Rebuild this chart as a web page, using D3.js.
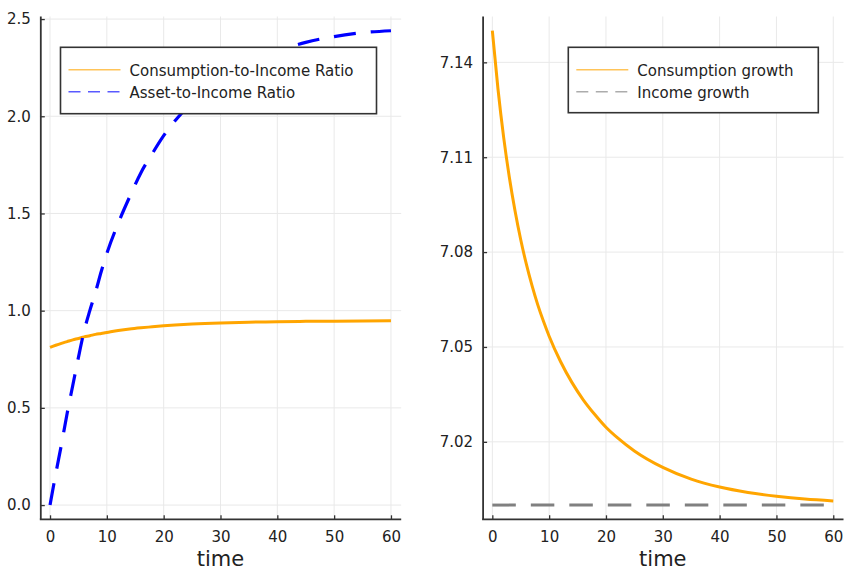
<!DOCTYPE html>
<html>
<head>
<meta charset="utf-8">
<script src="https://cdn.jsdelivr.net/npm/d3@7"></script>
<style>
  html, body { margin: 0; padding: 0; background: #ffffff; }
  svg { display: block; }
  text { font-family: "DejaVu Sans", sans-serif; fill: #222; }
</style>
</head>
<body>
<svg id="chart" width="845" height="569"></svg>
<script>
// Time grid shared by the simulated paths (years)
const timePoints = [0, 1, 2, 3, 4, 5, 6, 7, 8, 9, 10, 12, 14, 16, 18, 20, 22, 25, 30, 35, 40, 45, 50, 55, 60];

// Left panel: ratios to income
const consumptionRatio = [0.811, 0.822, 0.832, 0.841, 0.850, 0.857, 0.865, 0.871, 0.878, 0.883, 0.888,
                          0.898, 0.906, 0.912, 0.917, 0.922, 0.926, 0.931, 0.937, 0.941, 0.943, 0.945, 0.946, 0.947, 0.948];
const assetRatio = [0.0, 0.16, 0.31, 0.47, 0.615, 0.76, 0.895, 1.0, 1.095, 1.2, 1.295,
                    1.45, 1.585, 1.71, 1.808, 1.9, 1.977, 2.07, 2.19, 2.275, 2.335, 2.38, 2.41, 2.43, 2.44];

// Right panel: growth rates
const consumptionGrowth = [7.1500, 7.1315, 7.1162, 7.1036, 7.0930, 7.0839, 7.0761, 7.0693, 7.0633, 7.0581, 7.0534,
                           7.0454, 7.0388, 7.0333, 7.0287, 7.0246, 7.0213, 7.0171, 7.0119, 7.0082, 7.0057, 7.0040, 7.0028, 7.0019, 7.0013];
const incomeTimes = [0, 60];
const incomeGrowth = [7.0, 7.0];

// Tick labels
const xTicks = [0, 10, 20, 30, 40, 50, 60];
const leftYTicks = [0.0, 0.5, 1.0, 1.5, 2.0, 2.5];
const rightYTicks = [7.02, 7.05, 7.08, 7.11, 7.14];

const leftLegend = ["Consumption-to-Income Ratio", "Asset-to-Income Ratio"];
const rightLegend = ["Consumption growth", "Income growth"];

const svg = d3.select("#chart");

const plotTop = 16.5, plotBottom = 519.3;

function panel(opts) {
  const g = svg.append("g");
  const x = d3.scaleLinear().domain([-1.8, 61.8]).range([opts.left, opts.right]);
  const y = d3.scaleLinear().domain(opts.yDomain).range([plotBottom, plotTop]);

  // grid
  g.append("g").selectAll("line").data(xTicks).join("line")
    .attr("x1", d => x(d)).attr("x2", d => x(d))
    .attr("y1", plotTop).attr("y2", plotBottom)
    .attr("stroke", "#e9e9e9").attr("stroke-width", 1);
  g.append("g").selectAll("line").data(opts.yTicks).join("line")
    .attr("y1", d => y(d)).attr("y2", d => y(d))
    .attr("x1", opts.left).attr("x2", opts.right)
    .attr("stroke", "#e9e9e9").attr("stroke-width", 1);

  // axes (ticks point inward, labels outside)
  const xAxis = d3.axisBottom(x).tickValues(xTicks).tickFormat(d3.format("d"))
    .tickSizeInner(-4).tickSizeOuter(0).tickPadding(12);
  const yAxis = d3.axisLeft(y).tickValues(opts.yTicks).tickFormat(opts.yFormat)
    .tickSizeInner(-4).tickSizeOuter(0).tickPadding(10);

  const gx = g.append("g").attr("transform", `translate(0,${plotBottom})`).call(xAxis);
  const gy = g.append("g").attr("transform", `translate(${opts.left + 1},0)`).call(yAxis);
  [gx, gy].forEach(a => {
    a.select(".domain").remove();
    a.selectAll(".tick line").attr("stroke", "#333").attr("stroke-width", 1.3);
    a.selectAll(".tick text").attr("font-size", 15).attr("fill", "#222")
      .style("font-family", "'DejaVu Sans', sans-serif");
  });
  // spines
  g.append("line").attr("x1", opts.left + 1).attr("x2", opts.left + 1)
    .attr("y1", plotTop).attr("y2", plotBottom)
    .attr("stroke", "#333").attr("stroke-width", 1.8);
  g.append("line").attr("x1", opts.left).attr("x2", opts.right)
    .attr("y1", plotBottom).attr("y2", plotBottom)
    .attr("stroke", "#333").attr("stroke-width", 1.8);

  // x axis title
  g.append("text").attr("x", (opts.left + opts.right) / 2).attr("y", 565.5)
    .attr("text-anchor", "middle").attr("font-size", 21).text("time");

  // series
  opts.series.forEach(s => {
    const pts = s.t.map((t, i) => [t, s.v[i]]);
    const line = d3.line().x(d => x(d[0])).y(d => y(d[1])).curve(d3.curveMonotoneX);
    g.append("path").datum(pts).attr("d", line)
      .attr("fill", "none").attr("stroke", s.color).attr("stroke-width", s.width)
      .attr("stroke-dasharray", s.dash || null);
  });

  // legend
  const L = opts.legend;
  const lg = g.append("g");
  lg.append("rect").attr("x", L.x).attr("y", L.y).attr("width", L.w).attr("height", L.h)
    .attr("fill", "#fff").attr("stroke", "#333").attr("stroke-width", 1.6);
  opts.series.forEach((s, i) => {
    const cy = L.y + 22.5 + i * 22;
    lg.append("line").attr("x1", L.x + 8).attr("x2", L.x + 60)
      .attr("y1", cy).attr("y2", cy)
      .attr("stroke", s.color).attr("stroke-width", 1.6).attr("stroke-opacity", 0.65)
      .attr("stroke-dasharray", s.dash ? "12 7.5" : null);
    lg.append("text").attr("x", L.x + 69).attr("y", cy + 6)
      .attr("font-size", 15).text(s.name);
  });
}

panel({
  left: 39.8, right: 401.2,
  yDomain: [-0.0732, 2.5132],
  yTicks: leftYTicks,
  yFormat: d3.format(".1f"),
  series: [
    { name: leftLegend[0], t: timePoints, v: consumptionRatio, color: "#FFA500", width: 3 },
    { name: leftLegend[1], t: timePoints, v: assetRatio, color: "#0000FF", width: 3.2, dash: "22 15" }
  ],
  legend: { x: 60.5, y: 47.3, w: 316, h: 66.4 }
});

panel({
  left: 482.1, right: 843.5,
  yDomain: [6.9955, 7.1545],
  yTicks: rightYTicks,
  yFormat: d3.format(".2f"),
  series: [
    { name: rightLegend[0], t: timePoints, v: consumptionGrowth, color: "#FFA500", width: 3 },
    { name: rightLegend[1], t: incomeTimes, v: incomeGrowth, color: "#808080", width: 3, dash: "23.5 15" }
  ],
  legend: { x: 568.3, y: 47.3, w: 250, h: 65.4 }
});
</script>
</body>
</html>
